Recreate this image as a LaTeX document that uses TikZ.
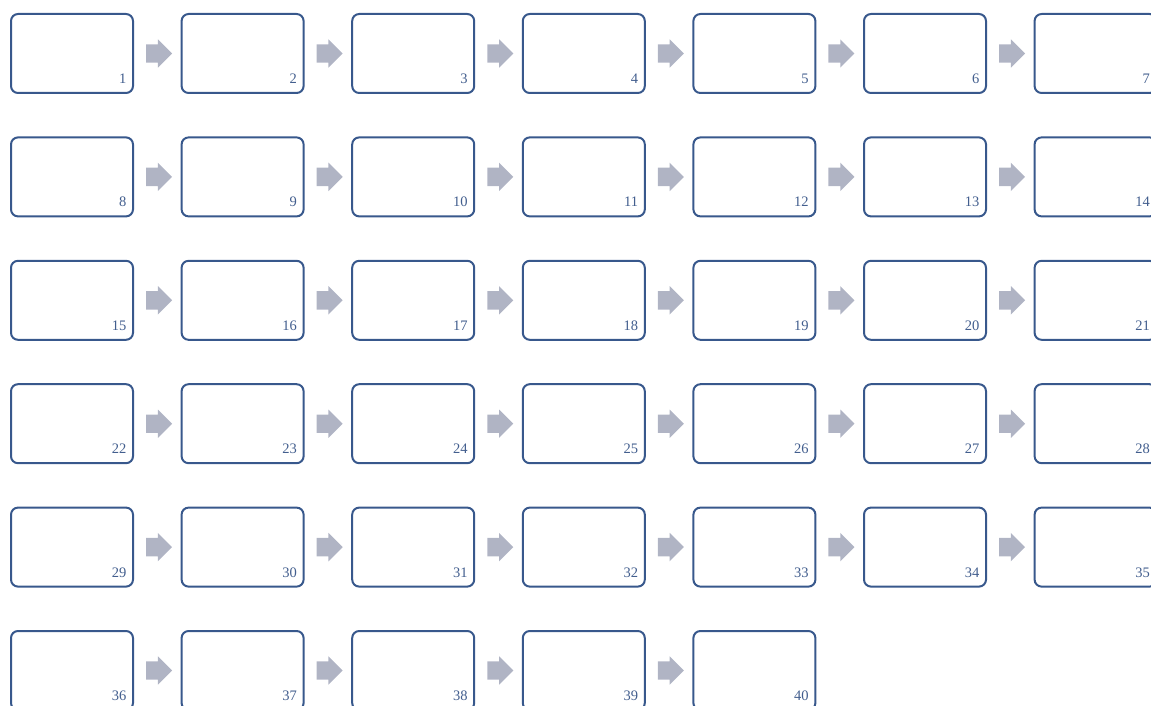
\documentclass[tikz,border=0pt]{standalone}
\usepackage{fontspec}
\setmainfont{Liberation Serif}
\usetikzlibrary{shapes.arrows,calc}
\definecolor{boxline}{RGB}{56,88,140}
\definecolor{arrowgray}{RGB}{176,180,196}
\definecolor{numblue}{RGB}{66,94,142}
\tikzset{
  framebox/.style={draw=boxline, line width=2pt, rounded corners=7pt, minimum width=122pt, minimum height=79pt, inner sep=0pt, fill=white},
  blockarrow/.style={single arrow, fill=arrowgray, draw=none, minimum height=26pt, inner xsep=0pt, inner ysep=9pt, single arrow head extend=5pt, anchor=west},
  numlabel/.style={anchor=base east, text=numblue, font=\fontsize{14.5}{14.5}\selectfont, inner sep=0pt}
}
\begin{document}
\begin{tikzpicture}[x=1pt,y=-1pt]
\useasboundingbox (0,0) rectangle (1151,706);
\foreach \n in {1,...,40}{
  \pgfmathtruncatemacro{\c}{mod(\n-1,7)}
  \pgfmathtruncatemacro{\r}{div(\n-1,7)}
  \pgfmathsetmacro{\xx}{72+170.6*\c}
  \pgfmathsetmacro{\yy}{53.5+123.4*\r}
  \node[framebox] (b\n) at (\xx,\yy) {};
  \node[numlabel] (t\n) at ([xshift=-7.5pt,yshift=10.5pt]b\n.south east) {\n};
}
\foreach \n in {1,...,39}{
  \pgfmathtruncatemacro{\c}{mod(\n-1,7)}
  \ifnum\c<6
    \pgfmathtruncatemacro{\m}{\n+1}
    \node[blockarrow] (a\n) at ($ (b\n.east)!0.255!(b\m.west) $) {};
  \fi
}
\end{tikzpicture}
\end{document}
